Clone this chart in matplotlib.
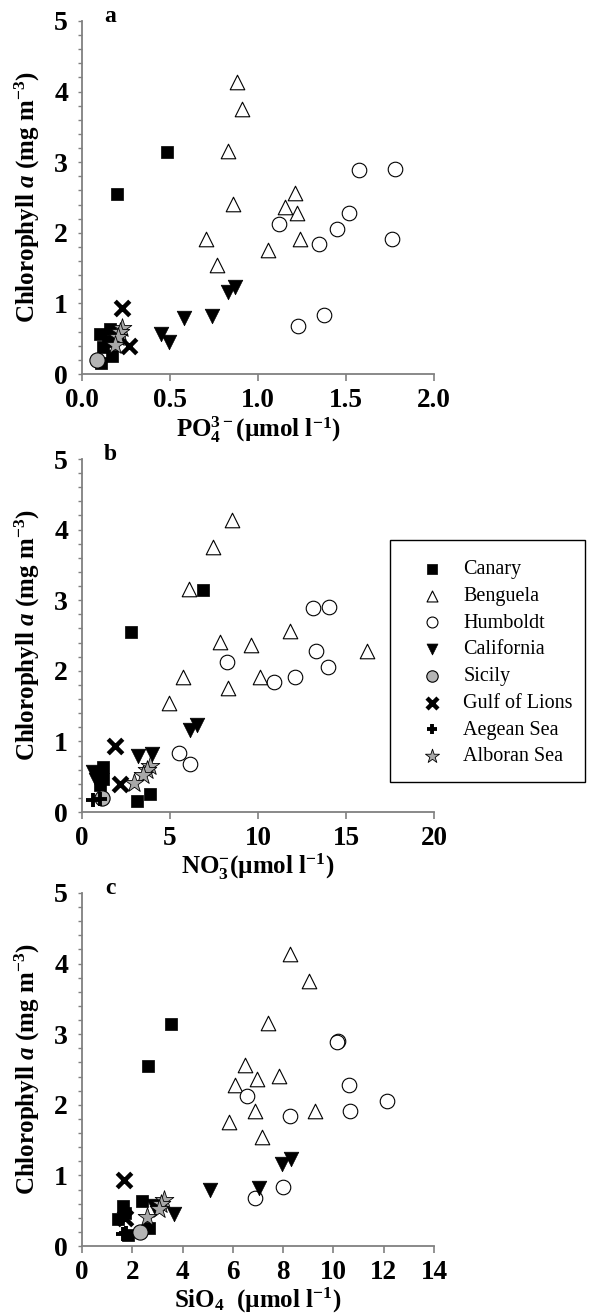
import matplotlib
matplotlib.use("Agg")
import numpy as np
import matplotlib.pyplot as plt
from matplotlib.ticker import MultipleLocator
from matplotlib.patches import Rectangle

plt.rcParams['font.family'] = ['Liberation Serif', 'DejaVu Serif']
plt.rcParams['mathtext.fontset'] = 'custom'
plt.rcParams['mathtext.rm'] = 'Liberation Serif:bold'
plt.rcParams['mathtext.it'] = 'Liberation Serif:italic:bold'
plt.rcParams['mathtext.bf'] = 'Liberation Serif:bold'

# chlorophyll a (mg m-3) per station, same in every panel
canary_chl = [3.15, 2.55, 0.64, 0.56, 0.47, 0.38, 0.25, 0.16]
canary_po4 = [0.485, 0.20, 0.16, 0.10, 0.15, 0.12, 0.17, 0.11]
canary_no3 = [6.86, 2.78, 1.20, 1.10, 1.20, 1.00, 3.86, 3.10]
canary_sio4 = [3.52, 2.61, 2.37, 1.64, 1.70, 1.44, 2.67, 1.84]

benguela_chl = [4.14, 3.75, 3.16, 2.56, 2.41, 2.36, 2.28, 1.91, 1.91, 1.76, 1.54]
benguela_po4 = [0.883, 0.907, 0.831, 1.208, 0.860, 1.153, 1.223, 0.703, 1.239, 1.059, 0.769]
benguela_no3 = [8.54, 7.46, 6.08, 11.8, 7.84, 9.60, 16.2, 5.72, 10.1, 8.30, 4.94]
benguela_sio4 = [8.29, 9.02, 7.41, 6.49, 7.83, 6.97, 6.07, 6.90, 9.25, 5.85, 7.17]

humboldt_chl = [2.90, 2.89, 2.28, 2.13, 2.06, 1.91, 1.84, 0.84, 0.68]
humboldt_po4 = [1.778, 1.574, 1.517, 1.121, 1.447, 1.763, 1.348, 1.377, 1.229]
humboldt_no3 = [14.05, 13.1, 13.3, 8.26, 13.96, 12.08, 10.9, 5.53, 6.14]
humboldt_sio4 = [10.2, 10.15, 10.63, 6.57, 12.13, 10.67, 8.29, 8.00, 6.89]

california_chl = [1.23, 1.16, 0.82, 0.79, 0.57, 0.45]
california_po4 = [0.869, 0.828, 0.741, 0.580, 0.449, 0.496]
california_no3 = [6.55, 6.14, 4.00, 3.20, 0.60, 0.80]
california_sio4 = [8.32, 7.96, 7.02, 5.10, 2.86, 3.66]

sicily_chl = [0.20]
sicily_po4 = [0.083]
sicily_no3 = [1.12]
sicily_sio4 = [2.30]

lions_chl = [0.94, 0.40]
lions_po4 = [0.225, 0.269]
lions_no3 = [1.87, 2.16]
lions_sio4 = [1.67, 1.71]

# no phosphate values shown for the Aegean stations
aegean_chl = [0.17, 0.18]
aegean_po4 = [np.nan, np.nan]
aegean_no3 = [0.64, 1.02]
aegean_sio4 = [1.62, 1.76]

alboran_chl = [0.65, 0.60, 0.52, 0.41]
alboran_po4 = [0.225, 0.215, 0.205, 0.19]
alboran_no3 = [3.85, 3.70, 3.45, 2.95]
alboran_sio4 = [3.25, 3.15, 3.05, 2.57]

regions = ['Canary', 'Benguela', 'Humboldt', 'California', 'Sicily',
           'Gulf of Lions', 'Aegean Sea', 'Alboran Sea']

data = {
    'Canary': (canary_chl, canary_po4, canary_no3, canary_sio4),
    'Benguela': (benguela_chl, benguela_po4, benguela_no3, benguela_sio4),
    'Humboldt': (humboldt_chl, humboldt_po4, humboldt_no3, humboldt_sio4),
    'California': (california_chl, california_po4, california_no3, california_sio4),
    'Sicily': (sicily_chl, sicily_po4, sicily_no3, sicily_sio4),
    'Gulf of Lions': (lions_chl, lions_po4, lions_no3, lions_sio4),
    'Aegean Sea': (aegean_chl, aegean_po4, aegean_no3, aegean_sio4),
    'Alboran Sea': (alboran_chl, alboran_po4, alboran_no3, alboran_sio4),
}

styles = {
    'Canary': dict(marker='s', s=80, c='black', edgecolors='black', linewidths=0.5),
    'Benguela': dict(marker='^', s=110, c='white', edgecolors='black', linewidths=0.8),
    'Humboldt': dict(marker='o', s=110, c='white', edgecolors='black', linewidths=0.8),
    'California': dict(marker='v', s=110, c='black', edgecolors='black', linewidths=0.5),
    'Sicily': dict(marker='o', s=120, c='#b4b4b4', edgecolors='black', linewidths=0.8),
    'Gulf of Lions': dict(marker='x', s=110, c='black', linewidths=3.2),
    'Aegean Sea': dict(marker='+', s=90, c='black', linewidths=2.8),
    'Alboran Sea': dict(marker='*', s=200, c='#a8a8a8', edgecolors='black', linewidths=0.6),
}

panels = [
    ('a', 1, (0, 2.0), 0.5, '%.1f', r'PO$_4^{3-}$(µmol l$^{-1}$)'),
    ('b', 2, (0, 20), 5, '%d', r'NO$_3^{-}$(µmol l$^{-1}$)'),
    ('c', 3, (0, 14), 2, '%d', r'SiO$_4$  (µmol l$^{-1}$)'),
]

W, H = 592, 1316
fig = plt.figure(figsize=(W / 100, H / 100), dpi=100)
tops = [21, 459, 893]

handles = {}
for (letter, col, xlim, xstep, fmt, xlabel), top in zip(panels, tops):
    ax = fig.add_axes([82 / W, 1 - (top + 353) / H, 352 / W, 353 / H])
    for r in regions:
        vals = data[r]
        handles[r] = ax.scatter(vals[col], vals[0], label=r, zorder=3,
                                clip_on=False, **styles[r])
    ax.set_xlim(*xlim)
    ax.set_ylim(0, 5)
    ax.xaxis.set_major_locator(MultipleLocator(xstep))
    ax.xaxis.set_major_formatter(plt.FormatStrFormatter(fmt))
    ax.yaxis.set_major_locator(MultipleLocator(1))
    ax.yaxis.set_minor_locator(MultipleLocator(0.2))
    for side in ['top', 'right']:
        ax.spines[side].set_visible(False)
    for side in ['left', 'bottom']:
        ax.spines[side].set_color('#808080')
        ax.spines[side].set_linewidth(1.3)
    ax.tick_params(axis='x', direction='out', length=5, width=1.2, color='#808080',
                   labelsize=19.5, pad=5)
    ax.tick_params(axis='y', which='both', direction='out', length=3, width=1,
                   color='#808080', labelsize=20, pad=7)
    for lab in ax.get_xticklabels() + ax.get_yticklabels():
        lab.set_fontweight('bold')
    ax.set_ylabel(r'Chlorophyll $\mathit{a}$ (mg m$^{-3}$)', fontsize=18,
                  fontweight='bold', labelpad=9)
    ax.set_xlabel(xlabel, fontsize=18, fontweight='bold', labelpad=0.5)
    ax.text(0.08, 1 + 5 / 353, letter, transform=ax.transAxes, fontsize=17,
            fontweight='bold', ha='center', va='center')

# legend sits inside a plain box drawn on its own
fig.patches.append(Rectangle((390 / W, 1 - 782 / H), 195 / W, 242 / H,
                             transform=fig.transFigure, fill=False,
                             edgecolor='black', linewidth=1.0))
leg = fig.legend([handles[r] for r in regions], regions, loc='upper left',
                 bbox_to_anchor=(412 / W, 1 - 560 / H), fontsize=14.5,
                 frameon=False, borderaxespad=0, borderpad=0,
                 labelspacing=0.38, handlelength=2.0, handletextpad=0.55,
                 markerscale=0.75, scatterpoints=1)

fig.savefig('out.png', dpi=100)
